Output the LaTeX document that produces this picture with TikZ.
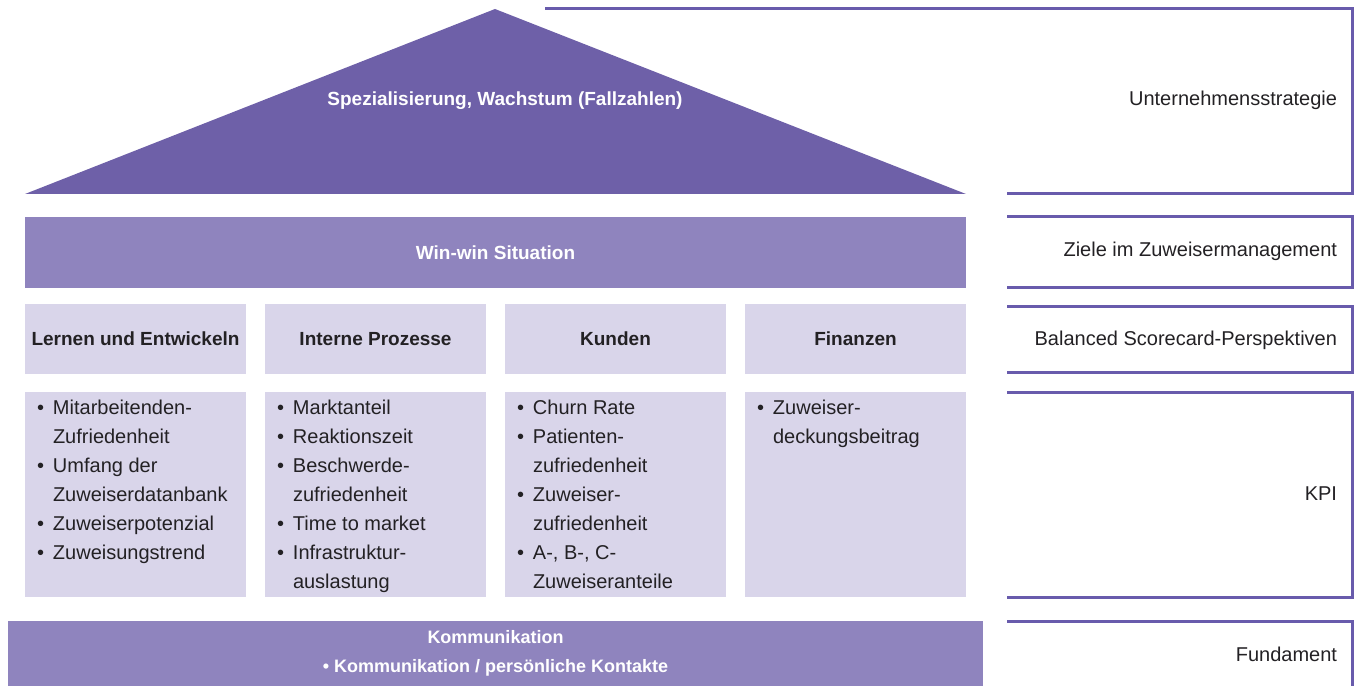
\documentclass[tikz,border=0pt]{standalone}
\usepackage{fontspec}
\setmainfont{Liberation Sans}
\usetikzlibrary{positioning}
\definecolor{roofpurple}{RGB}{110,96,168}
\definecolor{midpurple}{RGB}{143,132,190}
\definecolor{lightpurple}{RGB}{217,213,234}
\definecolor{darktext}{RGB}{35,33,36}
\newcommand{\kpiitem}[1]{\makebox[16pt][l]{\textbullet}#1}
\newcommand{\kpicont}[1]{\hspace*{16pt}#1}

\begin{document}
\begin{tikzpicture}[x=1pt,y=1pt]
    \tikzstyle{every node}=[inner sep=0pt,outer sep=0pt];
    \tikzstyle{bar}=[fill=midpurple,text=white,font=\bfseries\fontsize{19}{29}\selectfont];
    \tikzstyle{headbox}=[fill=lightpurple,minimum width=221pt,minimum height=70pt,text=darktext,font=\bfseries\fontsize{19}{23}\selectfont];
    \tikzstyle{kpibox}=[fill=lightpurple,minimum width=221pt,minimum height=205pt];
    \tikzstyle{kpilist}=[align=left,text=darktext,font=\fontsize{20}{29}\selectfont];
    \tikzstyle{sidelabel}=[anchor=east,text=darktext,font=\fontsize{20}{24}\selectfont];
    \tikzstyle{bracket}=[draw=roofpurple!95!blue,line width=3pt];

    \useasboundingbox (0,0) rectangle (1357,686);

    % house
    \fill[roofpurple] (25,492) -- (495,677) -- (966,492) -- cycle;
    \node[text=white,font=\bfseries\fontsize{19}{23}\selectfont] (roof) at (505,585) {Spezialisierung, Wachstum (Fallzahlen)};

    \node[bar,minimum width=941pt,minimum height=71pt] (winwin) at (495.5,433.5) {Win-win Situation};

    \node[headbox] (h1) at (135.5,347) {Lernen und Entwickeln};
    \node[headbox] (h2) at (375.5,347) {Interne Prozesse};
    \node[headbox] (h3) at (615.5,347) {Kunden};
    \node[headbox] (h4) at (855.5,347) {Finanzen};

    \node[kpibox] (k1) at (135.5,191.5) {};
    \node[kpibox] (k2) at (375.5,191.5) {};
    \node[kpibox] (k3) at (615.5,191.5) {};
    \node[kpibox] (k4) at (855.5,191.5) {};

    \node[kpilist,below right=8pt and 12pt of k1.north west] (l1) {\kpiitem{Mitarbeitenden-}\\\kpicont{Zufriedenheit}\\\kpiitem{Umfang der}\\\kpicont{Zuweiserdatanbank}\\\kpiitem{Zuweiserpotenzial}\\\kpiitem{Zuweisungstrend}};
    \node[kpilist,below right=8pt and 12pt of k2.north west] (l2) {\kpiitem{Marktanteil}\\\kpiitem{Reaktionszeit}\\\kpiitem{Beschwerde-}\\\kpicont{zufriedenheit}\\\kpiitem{Time to market}\\\kpiitem{Infrastruktur-}\\\kpicont{auslastung}};
    \node[kpilist,below right=8pt and 12pt of k3.north west] (l3) {\kpiitem{Churn Rate}\\\kpiitem{Patienten-}\\\kpicont{zufriedenheit}\\\kpiitem{Zuweiser-}\\\kpicont{zufriedenheit}\\\kpiitem{A-, B-, C-}\\\kpicont{Zuweiseranteile}};
    \node[kpilist,below right=8pt and 12pt of k4.north west] (l4) {\kpiitem{Zuweiser-}\\\kpicont{deckungsbeitrag}};

    \node[bar,font=\bfseries\fontsize{18}{29}\selectfont,minimum width=975pt,minimum height=65pt,align=center] (komm) at (495.5,32.5) {Kommunikation\\\textbullet\ Kommunikation / persönliche Kontakte};

    % levels on the right
    \draw[bracket] (545,677) -| (1352,492) -- (1007,492);
    \draw[bracket] (1007,469) -| (1352,398) -- (1007,398);
    \draw[bracket] (1007,379) -| (1352,313) -- (1007,313);
    \draw[bracket] (1007,293) -| (1352,89) -- (1007,89);
    \draw[bracket] (1007,65) -| (1352,0);

    \node[sidelabel] (strat) at (1337,586) {Unternehmensstrategie};
    \node[sidelabel] (ziele) at (1337,435) {Ziele im Zuweisermanagement};
    \node[sidelabel] (bsc) at (1337,346) {Balanced Scorecard-Perspektiven};
    \node[sidelabel] (kpi) at (1337,192) {KPI};
    \node[sidelabel] (fund) at (1337,32) {Fundament};
\end{tikzpicture}
\end{document}
